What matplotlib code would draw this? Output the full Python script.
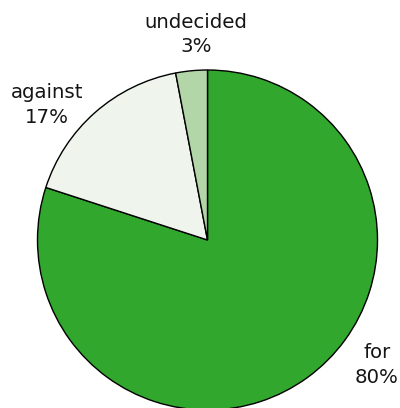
import matplotlib
matplotlib.use("Agg")
import matplotlib.pyplot as plt
import numpy as np

# data
labels = ["for", "against", "undecided"]
shares = [80, 17, 3]
colors = ["#31a72e", "#eff5ec", "#b2d6a8"]

# label spots (data units, pie radius = 1)
label_pos = [(0.997, -0.735), (-0.944, 0.794), (-0.068, 1.21)]

fig = plt.figure(figsize=(4.0, 4.08), dpi=100)
# axes box 340x340 px, pie centre at (207.5, 240) px from top-left
ax = fig.add_axes([37.5 / 400, -2 / 408, 340 / 400, 340 / 408])

wedges, _ = ax.pie(shares, colors=colors, startangle=90, counterclock=False,
                   wedgeprops=dict(edgecolor="black", linewidth=1))
for w in wedges:
    w.set_clip_on(False)

for lab, val, (x, y) in zip(labels, shares, label_pos):
    ax.text(x, y, "%s\n%d%%" % (lab, val), ha="center", va="center",
            fontsize=14.2, color="#151515", linespacing=1.35, clip_on=False)

ax.set_xlim(-1, 1)
ax.set_ylim(-1, 1)
ax.set_aspect("equal")
ax.axis("off")

fig.savefig("out.png", dpi=100)
